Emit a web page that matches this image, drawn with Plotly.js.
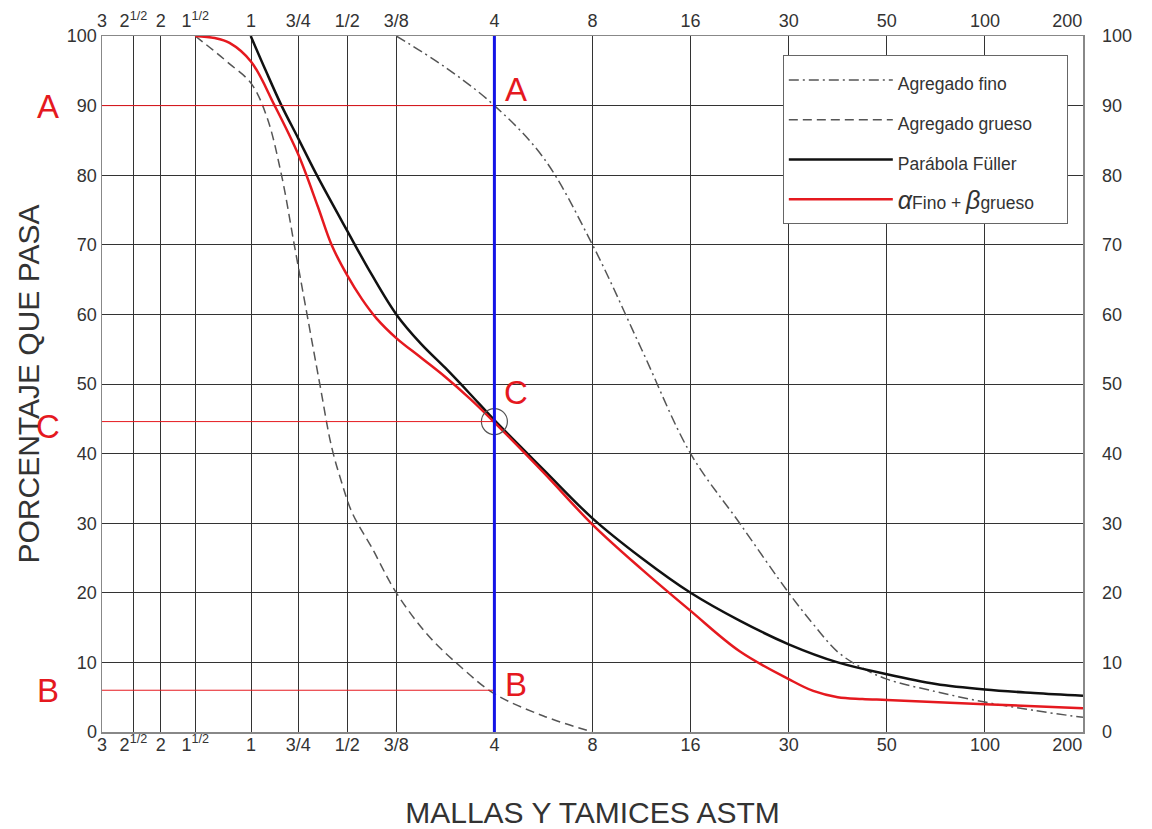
<!DOCTYPE html>
<html><head><meta charset="utf-8">
<script src="https://cdn.plot.ly/plotly-3.0.1.min.js"></script>
<style>html,body{margin:0;padding:0;background:#fff}#chart{width:1152px;height:829px}</style>
</head><body><div id="chart"></div>
<script>
// Sieve tick labels, grid positions on the chart's horizontal scale, and label positions
const sieveLabels = ['3','2<sup>1/2</sup>','2','1<sup>1/2</sup>','1','3/4','1/2','3/8','4','8','16','30','50','100','200'];
const sievePos = [0,0.32,0.60,0.95,1.52,2.0,2.5,3.0,4,5,6,7,8,9,10];
const labelPos = [0,0.32,0.60,0.95,1.52,2.0,2.5,3.0,4,5,6,7,8,9,9.84];

// Agregado fino (dash-dot)
const finoX = [3.0,3.5,4,4.5,5,5.5,6,6.5,7,7.25,7.5,7.75,8,8.5,9,9.5,10];
const finoY = [100,95.5,90,82.5,70,55,40,30,20,15.5,11.5,9.2,7.6,5.8,4.3,3.1,2.1];

// Agregado grueso (dashed)
const gruesoX = [0.95,1.13,1.3,1.52,1.68,1.83,1.96,2.09,2.22,2.34,2.44,2.55,2.75,3.0,3.33,3.67,4,4.5,5];
const gruesoY = [100,98,96,93.2,88.4,80,70,60,50,41,36,31.5,26.5,20,13.8,9.2,5.5,2.3,0];

// Parábola Füller (black)
const fullerX = [1.516,1.67,1.83,2.0,2.19,2.5,2.75,3.0,3.25,3.5,3.75,4,4.5,5,5.5,6,6.5,7,7.5,8,8.5,9,9.5,10];
const fullerY = [100,95,90,85.3,80,72,65.7,60,55.8,52.3,48.6,44.8,37.7,30.7,25,20,16,12.6,10,8.3,6.9,6.1,5.6,5.2];

// α Fino + β grueso (red)
const mezclaX = [0.95,1.15,1.3,1.52,1.76,2.0,2.2,2.34,2.5,2.65,2.8,3.0,3.25,3.5,3.75,4,4.5,5,5.5,6,6.5,7,7.25,7.5,7.75,8,9,10];
const mezclaY = [100,99.7,99,96.3,90,83,75.5,70,65.6,62.2,59.4,56.6,53.8,51.0,47.9,44.5,37.3,29.8,23.4,17.4,11.6,7.6,5.9,5.0,4.75,4.6,4.0,3.4];

// Reference values
const refSieve = 4;        // position of sieve Nº4
const refA = 90, refC = 44.6, refB = 6;

const FONT = 'Liberation Sans, Arial, sans-serif';
const RED = '#e5191f';
const LG = (s) => '<span style="font-size:17.5px">' + s + '</span>';
const PAD = '&#160;&#160;&#160;&#160;&#160;&#160;';

const traces = [
  {x: finoX, y: finoY, name: LG('Agregado fino'), mode: 'lines', legendgroup: 'g1',
   line: {color: '#555', width: 1.5, dash: '10px,4px,2px,4px', shape: 'spline', smoothing: 1}},
  {x: gruesoX, y: gruesoY, name: LG('Agregado grueso' + PAD), mode: 'lines', legendgroup: 'g2',
   line: {color: '#555', width: 1.5, dash: '9px,5px', shape: 'spline', smoothing: 1}},
  {x: fullerX, y: fullerY, name: LG('Parábola Füller'), mode: 'lines', legendgroup: 'g3',
   line: {color: '#111', width: 2.5, shape: 'spline', smoothing: 1}},
  {x: mezclaX, y: mezclaY, name: LG('<i><span style="font-size:25px">α</span></i>Fino + <i><span style="font-size:25px">β</span></i>grueso'), mode: 'lines', legendgroup: 'g4',
   line: {color: RED, width: 2.5, shape: 'spline', smoothing: 1}},
  {x: [refSieve], y: [refC], mode: 'markers', showlegend: false, hoverinfo: 'skip',
   marker: {symbol: 'circle-open', size: 26, color: '#555', line: {width: 1.2, color: '#555'}}},
  {x: [0], y: [0], xaxis: 'x2', yaxis: 'y2', mode: 'markers', showlegend: false, hoverinfo: 'skip',
   marker: {opacity: 0}},
  {x: [0], y: [0], xaxis: 'x3', yaxis: 'y', mode: 'markers', showlegend: false, hoverinfo: 'skip',
   marker: {opacity: 0}}
];

const tickFont = {family: FONT, size: 18, color: '#333'};
const gridCol = '#333';

const layout = {
  width: 1152, height: 829,
  margin: {l: 102, r: 69, t: 36, b: 97},
  paper_bgcolor: '#fff', plot_bgcolor: '#fff',
  font: {family: FONT, color: '#333'},
  xaxis: {range: [0, 10], tickmode: 'array', tickvals: sievePos, showticklabels: false,
    showgrid: true, gridcolor: gridCol, gridwidth: 1, zeroline: false,
    showline: true, linecolor: '#888', linewidth: 1.5, ticks: ''},
  xaxis2: {overlaying: 'x', side: 'top', range: [0, 10], tickmode: 'array', tickvals: labelPos, ticktext: sieveLabels,
    showgrid: false, zeroline: false, showline: true, linecolor: '#888', linewidth: 1.5, ticks: '', tickfont: tickFont},
  xaxis3: {overlaying: 'x', side: 'bottom', range: [0, 10], tickmode: 'array', tickvals: labelPos, ticktext: sieveLabels,
    showgrid: false, zeroline: false, showline: false, ticks: '', tickfont: tickFont,
    title: {text: 'MALLAS Y TAMICES ASTM', font: {family: FONT, size: 30, color: '#333'}, standoff: 48}},
  yaxis: {range: [0, 100], tickmode: 'linear', tick0: 0, dtick: 10,
    showgrid: true, gridcolor: gridCol, gridwidth: 1, zeroline: false,
    showline: true, linecolor: '#888', linewidth: 1.5, ticks: '', tickfont: tickFont,
    title: {text: 'PORCENTAJE QUE PASA', font: {family: FONT, size: 30, color: '#333'}, standoff: 18}},
  yaxis2: {overlaying: 'y', side: 'right', range: [0, 100], tickmode: 'linear', tick0: 0, dtick: 10,
    showgrid: false, zeroline: false, showline: true, linecolor: '#888', linewidth: 1.5, ticks: '',
    tickfont: tickFont, ticklabelstandoff: 14},
  legend: {x: 0.694, y: 0.972, xanchor: 'left', yanchor: 'top', bgcolor: '#fff',
    bordercolor: '#666', borderwidth: 1, font: {family: FONT, size: 26, color: '#333'},
    traceorder: 'grouped', tracegroupgap: 3, itemwidth: 104},
  shapes: [
    {type: 'line', xref: 'x', yref: 'y', x0: 0, x1: refSieve, y0: refA, y1: refA, line: {color: RED, width: 1}},
    {type: 'line', xref: 'x', yref: 'y', x0: 0, x1: refSieve, y0: refC, y1: refC, line: {color: RED, width: 1}},
    {type: 'line', xref: 'x', yref: 'y', x0: 0, x1: refSieve, y0: refB, y1: refB, line: {color: RED, width: 1}},
    {type: 'line', xref: 'x', yref: 'y', x0: refSieve, x1: refSieve, y0: 0, y1: 100, line: {color: '#1414e6', width: 3}}
  ],
  annotations: [
    {text: 'A', xref: 'paper', yref: 'y', x: -0.055, xanchor: 'center', y: refA, yshift: -1, showarrow: false, font: {family: FONT, size: 33, color: RED}},
    {text: 'C', xref: 'paper', yref: 'y', x: -0.055, xanchor: 'center', y: refC, yshift: -5, showarrow: false, font: {family: FONT, size: 33, color: RED}},
    {text: 'B', xref: 'paper', yref: 'y', x: -0.055, xanchor: 'center', y: refB, showarrow: false, font: {family: FONT, size: 33, color: RED}},
    {text: 'A', xref: 'x', yref: 'y', x: refSieve, xanchor: 'center', xshift: 22, y: refA, yshift: 16, showarrow: false, font: {family: FONT, size: 33, color: RED}},
    {text: 'C', xref: 'x', yref: 'y', x: refSieve, xanchor: 'center', xshift: 22, y: refC, yshift: 29, showarrow: false, font: {family: FONT, size: 33, color: RED}},
    {text: 'B', xref: 'x', yref: 'y', x: refSieve, xanchor: 'center', xshift: 22, y: refB, yshift: 6, showarrow: false, font: {family: FONT, size: 33, color: RED}}
  ],
  showlegend: true
};

Plotly.newPlot('chart', traces, layout, {displayModeBar: false, staticPlot: true});
</script>
</body></html>
